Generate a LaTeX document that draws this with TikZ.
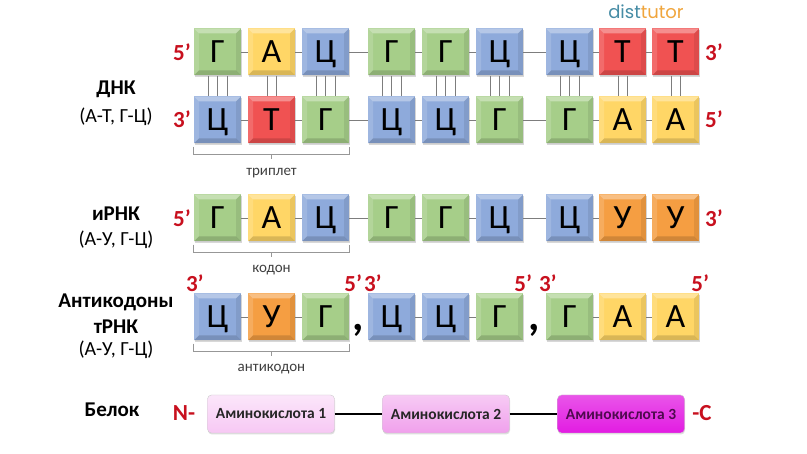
\documentclass[tikz,border=0pt]{standalone}
\usepackage{fontspec}
\setmainfont{Carlito}
\newfontfamily\logofont{Poppins}
\usetikzlibrary{shadows}

\definecolor{gruen}{RGB}{166,206,137}
\definecolor{gelb}{RGB}{255,214,102}
\definecolor{blau}{RGB}{142,170,219}
\definecolor{rot}{RGB}{240,82,82}
\definecolor{orng}{RGB}{245,158,66}
\definecolor{strich}{RGB}{125,125,125}
\definecolor{marker}{RGB}{200,16,30}
\definecolor{rosa}{RGB}{247,200,244}
\definecolor{mittelrosa}{RGB}{240,160,236}
\definecolor{lila}{RGB}{226,28,226}
\definecolor{logoblau}{RGB}{70,140,165}
\definecolor{logoorange}{RGB}{240,165,60}

\tikzset{
  base/.style={minimum size=47pt, inner sep=0pt, text height=22pt, text depth=0pt,
    font=\fontsize{34}{34}\selectfont,
    drop shadow={shadow xshift=0.5pt, shadow yshift=-1.5pt, opacity=.3},
    path picture={
      \fill[white,opacity=.35] (path picture bounding box.north west) -- (path picture bounding box.north east)
        -- ([xshift=-5pt,yshift=-5pt]path picture bounding box.north east) -- ([xshift=5pt,yshift=-5pt]path picture bounding box.north west) -- cycle;
      \fill[white,opacity=.15] (path picture bounding box.north west) -- (path picture bounding box.south west)
        -- ([xshift=5pt,yshift=5pt]path picture bounding box.south west) -- ([xshift=5pt,yshift=-5pt]path picture bounding box.north west) -- cycle;
      \fill[black,opacity=.15] (path picture bounding box.south west) -- (path picture bounding box.south east)
        -- ([xshift=-5pt,yshift=5pt]path picture bounding box.south east) -- ([xshift=5pt,yshift=5pt]path picture bounding box.south west) -- cycle;
      \fill[black,opacity=.08] (path picture bounding box.north east) -- (path picture bounding box.south east)
        -- ([xshift=-5pt,yshift=5pt]path picture bounding box.south east) -- ([xshift=-5pt,yshift=-5pt]path picture bounding box.north east) -- cycle;
    }},
  nG/.style={base, fill=gruen},
  nA/.style={base, fill=gelb},
  nC/.style={base, fill=blau},
  nT/.style={base, fill=rot},
  nU/.style={base, fill=orng},
  kette/.style={draw=strich, line width=0.9pt},
  bruecke/.style={draw=strich, line width=0.9pt},
  klammer/.style={draw=strich!80, line width=0.7pt},
  klein/.style={font=\fontsize{15}{15}\selectfont, text=black!75},
  titel/.style={font=\fontsize{21}{21}\selectfont\bfseries},
  regel/.style={font=\fontsize{20}{20}\selectfont},
  ende/.style={font=\fontsize{23}{23}\selectfont\bfseries, text=marker},
  amino/.style={rounded corners=4pt, minimum width=127pt, minimum height=38pt,
    font=\fontsize{15.5}{15.5}\selectfont\bfseries, draw=white!80!black, line width=0.4pt,
    drop shadow={shadow xshift=0.5pt, shadow yshift=-1.5pt, opacity=.25}},
}

\begin{document}
\begin{tikzpicture}[x=1pt, y=-1pt]
		\useasboundingbox[fill=white] (0,0) rectangle (807,454);
		
		%Logo
		\node (logo) at (646,12) {\logofont\fontsize{18}{18}\selectfont\textcolor{logoblau}{dist}\textcolor{logoorange}{tutor}};
		
		%Beschriftung links
		\node[titel] (dnk) at (116,89) {ДНК};
		\node[regel] (dnkregel) at (116,117) {(А-Т, Г-Ц)};
		\node[titel] (irnk) at (116,214) {иРНК};
		\node[regel] (irnkregel) at (116,240) {(А-У, Г-Ц)};
		\node[titel] (anti) at (116,302) {Антикодоны};
		\node[titel] (trnk) at (116,327) {тРНК};
		\node[regel] (trnkregel) at (116,350) {(А-У, Г-Ц)};
		\node[titel] (belok) at (112,410) {Белок};
		
		%DNK oberer Strang
		\foreach \i/\x/\s/\l in {1/217.5/nG/Г, 2/271.5/nA/А, 3/325.5/nC/Ц, 4/391.5/nG/Г, 5/445.5/nG/Г,
			6/499.5/nC/Ц, 7/569.5/nC/Ц, 8/622.5/nT/Т, 9/675.5/nT/Т}
			\node[\s] (t\i) at (\x,52) {\l};
		
		%DNK unterer Strang
		\foreach \i/\x/\s/\l in {1/217.5/nC/Ц, 2/271.5/nT/Т, 3/325.5/nG/Г, 4/391.5/nC/Ц, 5/445.5/nC/Ц,
			6/499.5/nG/Г, 7/569.5/nG/Г, 8/622.5/nA/А, 9/675.5/nA/А}
			\node[\s] (b\i) at (\x,120) {\l};
		
		%iRNK
		\foreach \i/\x/\s/\l in {1/217.5/nG/Г, 2/271.5/nA/А, 3/325.5/nC/Ц, 4/391.5/nG/Г, 5/445.5/nG/Г,
			6/499.5/nC/Ц, 7/569.5/nC/Ц, 8/622.5/nU/У, 9/675.5/nU/У}
			\node[\s] (m\i) at (\x,218) {\l};
		
		%Antikodone
		\foreach \i/\x/\s/\l in {1/217.5/nC/Ц, 2/271.5/nU/У, 3/325.5/nG/Г, 4/391.5/nC/Ц, 5/445.5/nC/Ц,
			6/499.5/nG/Г, 7/569.5/nG/Г, 8/622.5/nA/А, 9/675.5/nA/А}
			\node[\s] (a\i) at (\x,317) {\l};
		
		%Ketten
		\foreach \i/\j in {1/2, 2/3, 3/4, 4/5, 5/6, 6/7, 7/8, 8/9}{
			\draw[kette] (t\i) -- (t\j);
			\draw[kette] (b\i) -- (b\j);
			\draw[kette] (m\i) -- (m\j);
		}
		\foreach \i/\j in {1/2, 2/3, 4/5, 5/6, 7/8, 8/9}
			\draw[kette] (a\i) -- (a\j);
		
		%Wasserstoffbruecken
		\foreach \i in {1,3,4,5,6,7}
			\foreach \d in {-9.5,0,9.5}
				\draw[bruecke] ([xshift=\d pt]t\i.south) -- ([xshift=\d pt]b\i.north);
		\foreach \i in {2,8,9}
			\foreach \d in {-4.5,4.5}
				\draw[bruecke] ([xshift=\d pt]t\i.south) -- ([xshift=\d pt]b\i.north);
		
		%Enden
		\node[ende] (t5e) at (182,52) {5’};
		\node[ende] (t3e) at (714,52) {3’};
		\node[ende] (b3e) at (182,119) {3’};
		\node[ende] (b5e) at (714,119) {5’};
		\node[ende] (m5e) at (182,218) {5’};
		\node[ende] (m3e) at (714,218) {3’};
		\node[ende] (a3e1) at ([xshift=1pt,yshift=10pt]a1.north west) {3’};
		\node[ende] (a5e1) at ([xshift=4pt,yshift=10pt]a3.north east) {5’};
		\node[ende] (a3e2) at ([xshift=5pt,yshift=10pt]a4.north west) {3’};
		\node[ende] (a5e2) at ([xshift=0pt,yshift=10pt]a6.north east) {5’};
		\node[ende] (a3e3) at ([xshift=2pt,yshift=10pt]a7.north west) {3’};
		\node[ende] (a5e3) at ([xshift=1pt,yshift=10pt]a9.north east) {5’};
		
		%Kommas
		\node[font=\fontsize{44}{44}\selectfont\bfseries, anchor=base] (k1) at (358,331) {,};
		\node[font=\fontsize{44}{44}\selectfont\bfseries, anchor=base] (k2) at (534,331) {,};
		
		%Klammern
		\draw[klammer] ([yshift=-3pt]b1.south west) -- ([yshift=-11pt]b1.south west) -- ([yshift=-11pt]b3.south east) -- ([yshift=-3pt]b3.south east);
		\draw[klammer] ([yshift=-11pt]b2.south) -- ([yshift=-15pt]b2.south) node[klein, below=6pt] (triplet) {триплет};
		\draw[klammer] ([yshift=-3pt]m1.south west) -- ([yshift=-11pt]m1.south west) -- ([yshift=-11pt]m3.south east) -- ([yshift=-3pt]m3.south east);
		\draw[klammer] ([yshift=-11pt]m2.south) -- ([yshift=-15pt]m2.south) node[klein, below=5pt] (kodon) {кодон};
		\draw[klammer] ([yshift=-3pt]a1.south west) -- ([yshift=-11pt]a1.south west) -- ([yshift=-11pt]a3.south east) -- ([yshift=-3pt]a3.south east);
		\draw[klammer] ([yshift=-11pt]a2.south) -- ([yshift=-15pt]a2.south) node[klein, below=5pt] (antikodon) {антикодон};
		
		%Belok
		\node[amino, top color=rosa!45, bottom color=rosa, text=black!85] (p1) at (271,414) {Аминокислота 1};
		\node[amino, top color=mittelrosa!55, bottom color=mittelrosa, text=black!85] (p2) at (446,414) {Аминокислота 2};
		\node[amino, top color=lila!75, bottom color=lila, text=lila!35!black] (p3) at (621,414) {Аминокислота 3};
		\draw[line width=2pt] (p1) -- (p2);
		\draw[line width=2pt] (p2) -- (p3);
		\node[ende] (nende) at (184,413) {N-};
		\node[ende] (cende) at (702,413) {-C};
		
\end{tikzpicture}
\end{document}
